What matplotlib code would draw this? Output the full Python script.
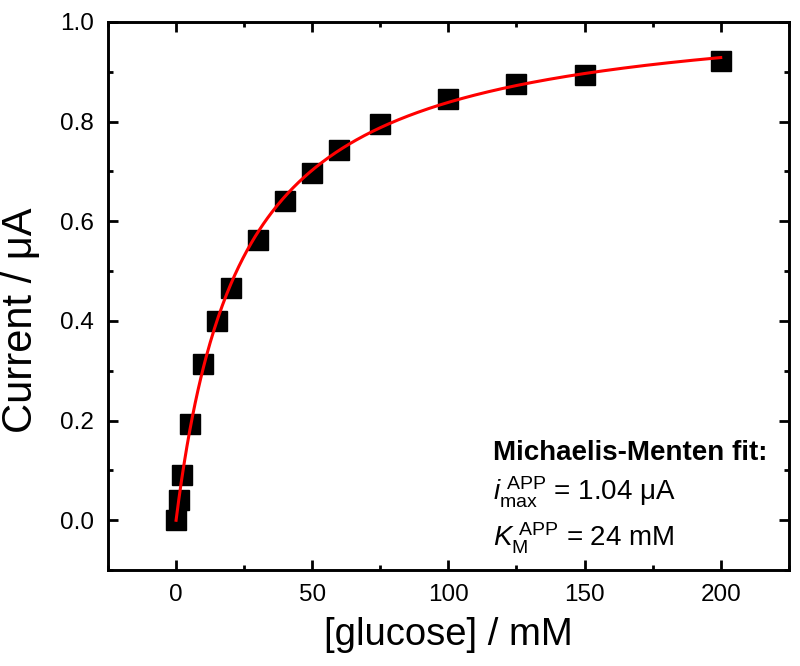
import numpy as np
import matplotlib
matplotlib.use('Agg')
import matplotlib.pyplot as plt
from matplotlib.ticker import MultipleLocator

plt.rcParams['font.family'] = ['Liberation Sans', 'DejaVu Sans']
plt.rcParams['mathtext.fontset'] = 'custom'
plt.rcParams['mathtext.rm'] = 'Liberation Sans'
plt.rcParams['mathtext.it'] = 'Liberation Sans:italic'
plt.rcParams['mathtext.bf'] = 'Liberation Sans:bold'

# measured calibration points
glucose_mM = [0, 1, 2, 5, 10, 15, 20, 30, 40, 50, 60, 75, 100, 125, 150, 200]
current_uA = [0.0, 0.040, 0.090, 0.194, 0.313, 0.400, 0.466, 0.563, 0.641, 0.697,
              0.744, 0.796, 0.845, 0.875, 0.894, 0.922]

# Michaelis-Menten fit parameters
i_max = 1.04   # uA
K_m = 24       # mM

fig = plt.figure(figsize=(8, 6.66), dpi=100)
ax = fig.add_axes([0.135, 0.144, 0.851, 0.823])

# fit curve
c = np.linspace(0, max(glucose_mM), 400)
ax.plot(c, i_max * c / (K_m + c), color='#ff0000', lw=2.2, zorder=3)

ax.plot(glucose_mM, current_uA, linestyle='none', marker='s', markersize=14.5,
        color='black', zorder=2)

ax.set_xlim(-25, 225)
ax.set_ylim(-0.1, 1.0)
ax.xaxis.set_major_locator(MultipleLocator(50))
ax.xaxis.set_minor_locator(MultipleLocator(25))
ax.yaxis.set_major_locator(MultipleLocator(0.2))
ax.yaxis.set_minor_locator(MultipleLocator(0.1))
ax.yaxis.set_major_formatter(plt.FuncFormatter(lambda v, p: f'{v:.1f}'))

ax.tick_params(which='both', direction='in', top=True, right=True, width=2.0,
               labelsize=17.5, pad=10)
ax.tick_params(which='major', length=7)
ax.tick_params(which='minor', length=3.8)
for s in ax.spines.values():
    s.set_linewidth(2.1)

ax.set_xlabel('[glucose] / mM', fontsize=27.5, labelpad=8)
ax.set_ylabel('Current / μA', fontsize=30, va='center')
ax.yaxis.set_label_coords(-0.128, 0.456)

ax.text(0.565, 0.200, 'Michaelis-Menten fit:', transform=ax.transAxes,
        fontsize=20, fontweight='bold', ha='left', va='baseline')
ax.text(0.565, 0.127, r'$\mathit{i}_{\mathrm{max}}^{\ \mathrm{APP}}$' + ' = 1.04 μA',
        transform=ax.transAxes, fontsize=20, ha='left', va='baseline')
ax.text(0.565, 0.043, r'$\mathit{K}_{\mathrm{M}}^{\ \mathrm{APP}}$' + ' = 24 mM',
        transform=ax.transAxes, fontsize=20, ha='left', va='baseline')

fig.savefig('out.png', dpi=100)
